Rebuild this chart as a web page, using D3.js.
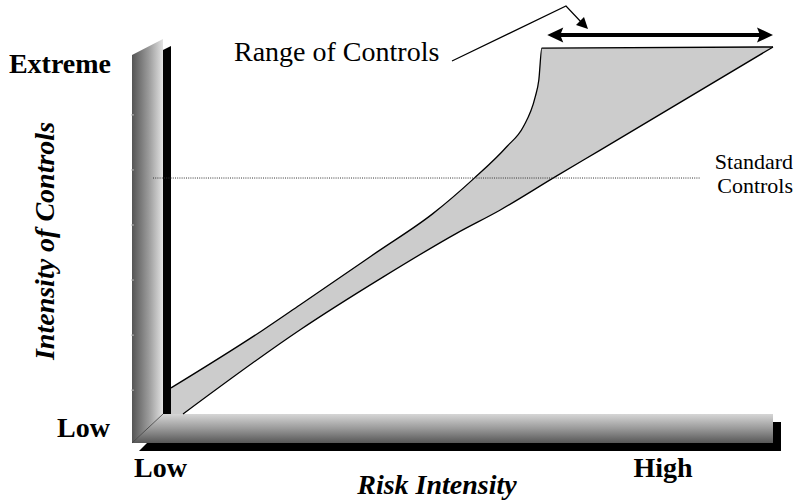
<!DOCTYPE html>
<html>
<head>
<meta charset="utf-8">
<script src="https://cdn.jsdelivr.net/npm/d3@7"></script>
<style>
  html, body { margin: 0; padding: 0; background: #fff; }
  svg { display: block; }
  text { font-family: "Liberation Serif", "Times New Roman", serif; fill: #000; }
</style>
</head>
<body>
<svg id="chart" width="802" height="503"></svg>
<script>
// Axis end labels
const xTickLabels = ["Low", "High"];
const yTickLabels = ["Low", "Extreme"];

// Upper edge of the control band (risk intensity, control intensity), 0-100
const upperX = [0, 15.3, 21.4, 34.2, 43.5, 50.2, 55.8, 58.5, 60.5, 61.1, 61.6, 100];
const upperY = [7.1, 22.9, 29.7, 44.1, 54.6, 64.0, 72.9, 78.2, 86.4, 91.0, 99.7, 100];

// Lower edge of the control band
const lowerX = [2.0, 21.4, 35.2, 47.5, 54.7, 63.8, 71.3, 100];
const lowerY = [0, 22.9, 37.3, 49.3, 55.6, 64.6, 71.9, 100];

// Standard controls level
const standardLevel = [64.3];

// Faint tick marks on the vertical axis
const yTicks = [6.5, 21.5, 36.5, 51.5, 66.5, 81.5];

const svg = d3.select("#chart");
const x = d3.scaleLinear().domain([0, 100]).range([171, 773]);
const y = d3.scaleLinear().domain([0, 100]).range([414, 47]);

const X0 = x(0), X1 = x(100), YB = y(0), YT = y(100);
const shade = 8, depth = 31, barH = 29;
const pl = X0 - shade - depth, pr = X0 - shade;

const defs = svg.append("defs");
const gv = defs.append("linearGradient").attr("id", "gVert")
  .attr("x1", "0").attr("x2", "1").attr("y1", "0").attr("y2", "0");
gv.append("stop").attr("offset", "0").attr("stop-color", "#555");
gv.append("stop").attr("offset", "0.55").attr("stop-color", "#9c9c9c");
gv.append("stop").attr("offset", "1").attr("stop-color", "#e2e2e2");
const gh = defs.append("linearGradient").attr("id", "gHorz")
  .attr("x1", "0").attr("x2", "0").attr("y1", "0").attr("y2", "1");
gh.append("stop").attr("offset", "0").attr("stop-color", "#d6d6d6");
gh.append("stop").attr("offset", "0.5").attr("stop-color", "#9a9a9a");
gh.append("stop").attr("offset", "1").attr("stop-color", "#575757");

const poly = pts => "M" + pts.map(p => p.join(",")).join("L") + "Z";

// Horizontal axis shadow
svg.append("path")
  .attr("d", poly([[pl + 7, YB + barH + shade], [pl + 15, YB + barH], [X1, YB + barH], [X1, YB + shade],
                   [X1 + shade, YB + shade], [X1 + shade, YB + barH + shade]]))
  .attr("fill", "#000");

// Vertical axis pillar
svg.append("path")
  .attr("d", poly([[pl, YT + 8], [pr, YT - 8], [pr, YB], [pl, YB + barH]]))
  .attr("fill", "url(#gVert)");
// Vertical axis shadow
svg.append("path")
  .attr("d", poly([[pr, YT + 3], [X0, YT - 1], [X0, YB], [pr, YB]]))
  .attr("fill", "#000");

// Faint ticks on pillar
svg.append("g").selectAll("line").data(yTicks).join("line")
  .attr("x1", pl - 1).attr("x2", pl + 2)
  .attr("y1", d => y(d)).attr("y2", d => y(d))
  .attr("stroke", "#bbb").attr("stroke-width", 1);

// Horizontal axis bar
svg.append("path")
  .attr("d", poly([[pl, YB + barH], [pr, YB], [X1, YB], [X1, YB + barH]]))
  .attr("fill", "url(#gHorz)");
svg.append("line")
  .attr("x1", pl).attr("y1", YB + barH).attr("x2", pr).attr("y2", YB)
  .attr("stroke", "#333").attr("stroke-width", 0.8);

// Control band
const upper = upperX.map((v, i) => [v, upperY[i]]);
const lower = lowerX.map((v, i) => [v, lowerY[i]]);
const line = d3.line().x(d => x(d[0])).y(d => y(d[1])).curve(d3.curveMonotoneX);

const bandPath = line(upper) + "L" + line(lower.slice().reverse()).slice(1)
  + "L" + x(0) + "," + y(0) + "Z";
svg.append("path").attr("d", bandPath).attr("fill", "#cccccc");
svg.append("path").attr("d", line(upper))
  .attr("fill", "none").attr("stroke", "#000").attr("stroke-width", 1.3);
svg.append("path").attr("d", line(lower))
  .attr("fill", "none").attr("stroke", "#000").attr("stroke-width", 1.3);

// Standard controls dotted line
svg.append("line")
  .attr("x1", pl + 21).attr("x2", 700)
  .attr("y1", y(standardLevel[0])).attr("y2", y(standardLevel[0]))
  .attr("stroke", "#333").attr("stroke-width", 1).attr("stroke-dasharray", "1,1.2");
svg.append("text").attr("x", 793).attr("y", 169).attr("text-anchor", "end")
  .attr("font-size", 22).text("Standard");
svg.append("text").attr("x", 793).attr("y", 193).attr("text-anchor", "end")
  .attr("font-size", 22).text("Controls");

// Range arrow (double headed)
const ay = YT - 12;
const ax0 = x(62.5), ax1 = X1;
svg.append("line").attr("x1", ax0 + 12).attr("x2", ax1 - 12).attr("y1", ay).attr("y2", ay)
  .attr("stroke", "#000").attr("stroke-width", 4);
svg.append("path").attr("d", poly([[ax0, ay], [ax0 + 16, ay - 7.5], [ax0 + 13, ay], [ax0 + 16, ay + 7.5]]))
  .attr("fill", "#000");
svg.append("path").attr("d", poly([[ax1, ay], [ax1 - 16, ay - 7.5], [ax1 - 13, ay], [ax1 - 16, ay + 7.5]]))
  .attr("fill", "#000");

// Callout
svg.append("text").attr("x", 234).attr("y", 61).attr("font-size", 28).text("Range of Controls");
svg.append("polyline").attr("points", "452,61 566,6 582,23")
  .attr("fill", "none").attr("stroke", "#000").attr("stroke-width", 1.2);
svg.append("path").attr("d", poly([[588, 29], [576, 25], [584, 17]])).attr("fill", "#000");

// Axis end labels
svg.append("text").attr("x", 111).attr("y", 73).attr("text-anchor", "end")
  .attr("font-size", 28).attr("font-weight", "bold").text(yTickLabels[1]);
svg.append("text").attr("x", 110).attr("y", 437).attr("text-anchor", "end")
  .attr("font-size", 28).attr("font-weight", "bold").text(yTickLabels[0]);
svg.append("text").attr("x", 134).attr("y", 477)
  .attr("font-size", 28).attr("font-weight", "bold").text(xTickLabels[0]);
svg.append("text").attr("x", 663).attr("y", 477).attr("text-anchor", "middle")
  .attr("font-size", 28).attr("font-weight", "bold").text(xTickLabels[1]);

// Axis titles
svg.append("text").attr("x", 437).attr("y", 494).attr("text-anchor", "middle")
  .attr("font-size", 28).attr("font-weight", "bold").attr("font-style", "italic")
  .text("Risk Intensity");
svg.append("text").attr("transform", "translate(54,241) rotate(-90)").attr("text-anchor", "middle")
  .attr("font-size", 28).attr("font-weight", "bold").attr("font-style", "italic")
  .text("Intensity of Controls");
</script>
</body>
</html>
